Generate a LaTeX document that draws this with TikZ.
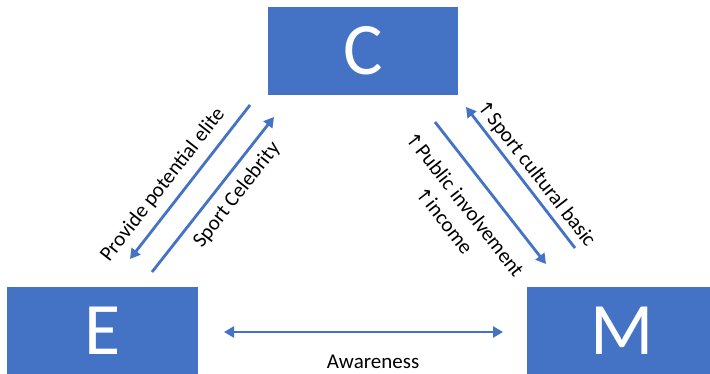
\documentclass[tikz,border=0pt]{standalone}
\usepackage{fontspec}
\setmainfont{Carlito}
\newfontfamily\arrowfont{DejaVu Sans}
\usetikzlibrary{arrows.meta}
\definecolor{boxblue}{HTML}{4472C4}
\newcommand{\uparr}{{\arrowfont\fontsize{19}{22}\selectfont ↑}}
\tikzset{
  bigbox/.style={fill=boxblue, draw=none, minimum width=190pt, minimum height=88pt,
    inner sep=0pt, text=white, font=\fontsize{74}{80}\selectfont},
  flow/.style={draw=boxblue, line width=2.8pt, -{Triangle[length=10pt,width=11pt]}},
  both/.style={draw=boxblue, line width=2.8pt, {Triangle[length=10pt,width=11pt]}-{Triangle[length=10pt,width=11pt]}},
  lbl/.style={font=\fontsize{21}{26}\selectfont, text=black, inner sep=0pt}
}
\begin{document}
\begin{tikzpicture}[x=1pt,y=-1pt]
\useasboundingbox (0,0) rectangle (710,374);
\clip (0,0) rectangle (710,374);
\fill[white] (0,0) rectangle (710,374);
% boxes
\node[bigbox] (C) at (363,51) {C};
\node[bigbox, minimum width=191pt] (E) at (102.5,331) {E};
\node[bigbox] (M) at (622,331) {M};
% free arrow ends
\coordinate (pe1) at (250,105);
\coordinate (pe2) at (130,259);
\coordinate (sc1) at (152,272);
\coordinate (sc2) at (274,117);
\coordinate (cb1) at (575,248);
\coordinate (cb2) at (466,107);
\coordinate (pi1) at (435,122);
\coordinate (pi2) at (546,264);
\coordinate (aw1) at (224,332);
\coordinate (aw2) at (503,332);
% arrows
\draw[flow] (pe1) -- (pe2);
\draw[flow] (sc1) -- (sc2);
\draw[flow] (cb1) -- (cb2);
\draw[flow] (pi1) -- (pi2);
\draw[both] (aw1) -- (aw2);
% labels
\node[lbl, rotate=52] (lpe) at (163,185) {Provide potential elite};
\node[lbl, rotate=52] (lsc) at (237,195) {Sport Celebrity};
\node[lbl, rotate=-52] (lcb) at (536,174) {\uparr Sport cultural basic};
\node[lbl, rotate=-52, align=center] (lpi) at (455,212) {\uparr Public involvement\\\uparr income};
\node[lbl] (law) at (373,362) {Awareness};
\end{tikzpicture}
\end{document}
